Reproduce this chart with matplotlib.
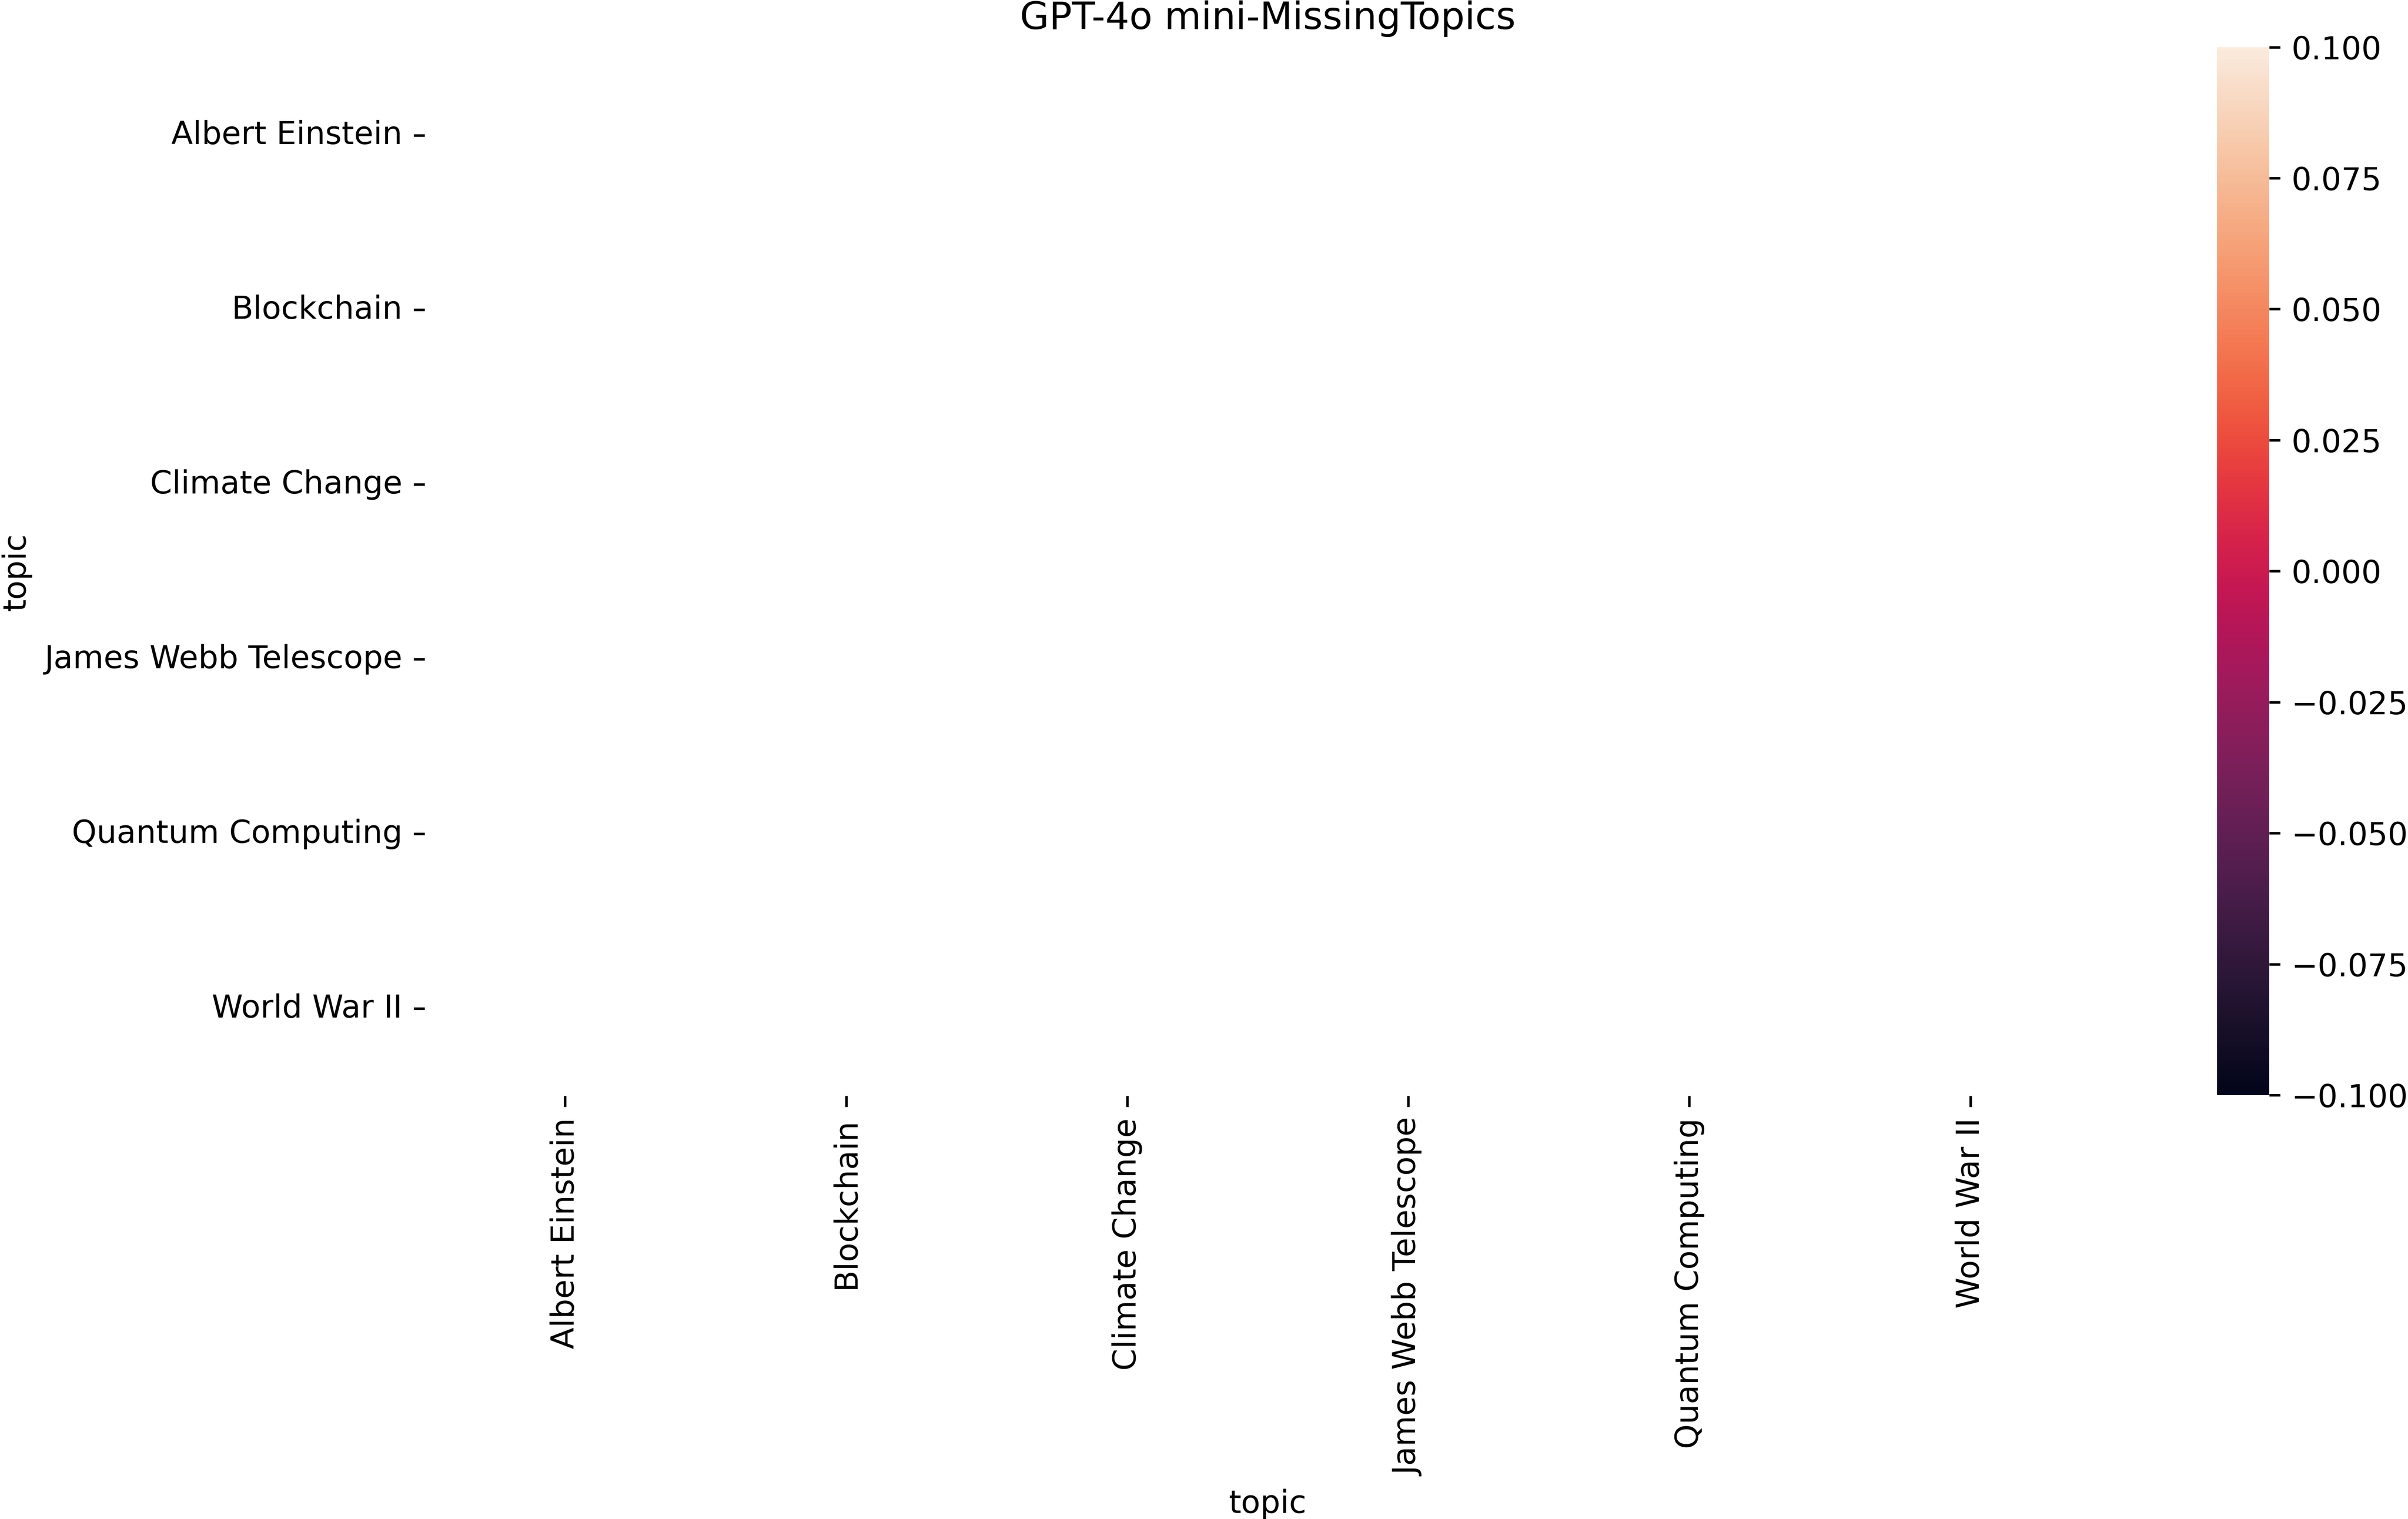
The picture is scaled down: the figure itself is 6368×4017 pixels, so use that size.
import numpy as np
import pandas as pd
import matplotlib
matplotlib.use("Agg")
import matplotlib.pyplot as plt
import seaborn as sns

# Data: the reference heatmap is empty (all values missing)
topics = ["Albert Einstein", "Blockchain", "Climate Change",
          "James Webb Telescope", "Quantum Computing", "World War II"]
values = [[np.nan] * 6 for _ in range(6)]
title = "GPT-4o mini-MissingTopics"
cbar_min = -0.1
cbar_max = 0.1

df = pd.DataFrame(values, index=pd.Index(topics, name="topic"),
                  columns=pd.Index(topics, name="topic"))

plt.rcParams['font.family'] = ['DejaVu Sans']
plt.rcParams['font.size'] = 10

fig = plt.figure(figsize=(6368 / 600, 4017 / 600), dpi=600)
ax = fig.add_axes([0.1763, 0.2785, 0.8766 - 0.1763, 0.9685 - 0.2785])
cax = fig.add_axes([0.9207, 0.2790, 0.9424 - 0.9207, 0.9690 - 0.2790])

sns.heatmap(df, ax=ax, cbar_ax=cax, vmin=cbar_min, vmax=cbar_max,
            cmap="rocket")
cax.set_yticks(np.arange(-0.1, 0.1001, 0.025))

ax.set_xticklabels(topics, rotation=90)
ax.set_yticklabels(topics, rotation=0)
ax.set_xlabel("topic")
ax.set_ylabel("topic")
ax.set_title(title, fontsize=12)

fig.savefig("out.png", dpi=600)
